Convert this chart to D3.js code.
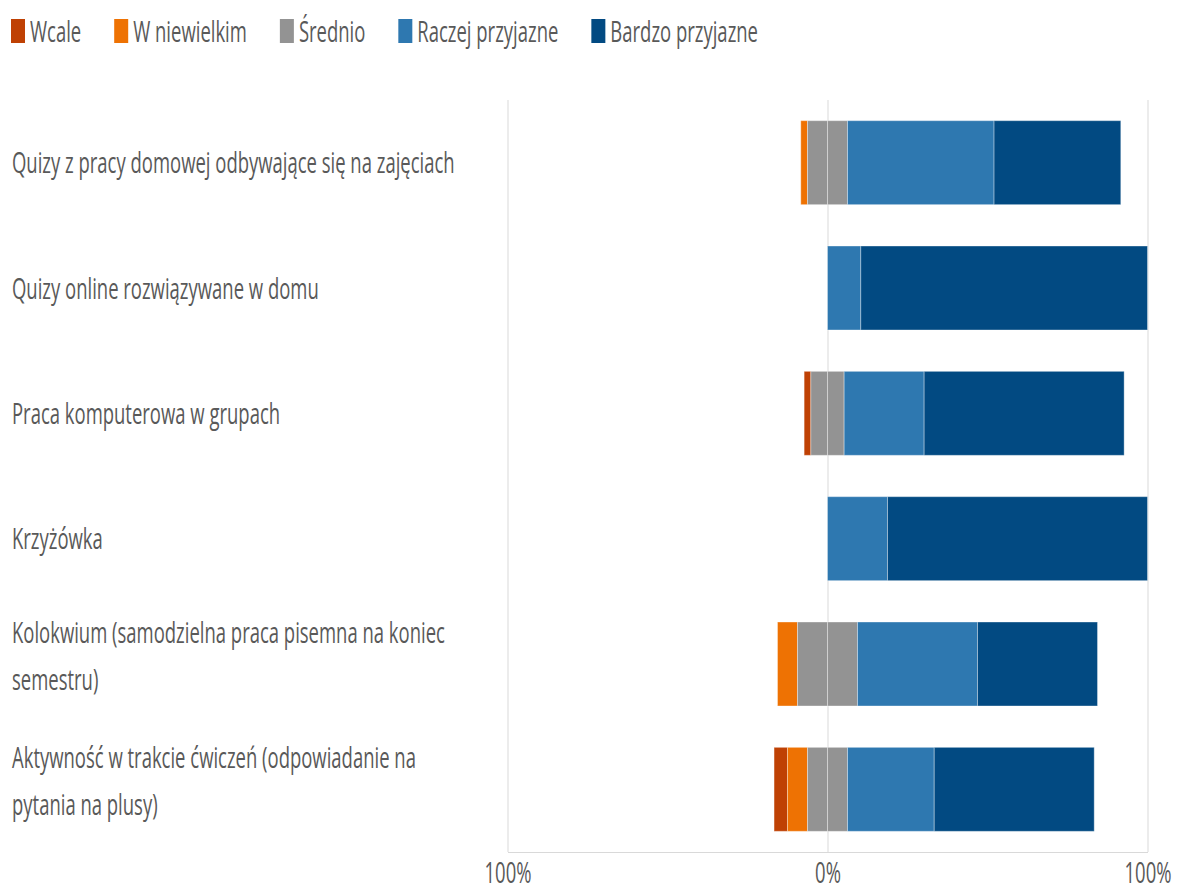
<!DOCTYPE html>
<html>
<head>
<meta charset="utf-8">
<script src="https://cdn.jsdelivr.net/npm/d3@7"></script>
<style>
  body { margin: 0; background: #fff; }
  text { font-family: "Open Sans", "Noto Sans", sans-serif; fill: #595959; }
</style>
</head>
<body>
<svg id="chart" width="1178" height="890"></svg>
<script>
// categories (top to bottom)
const categories = [
  "Quizy z pracy domowej odbywające się na zajęciach",
  "Quizy online rozwiązywane w domu",
  "Praca komputerowa w grupach",
  "Krzyżówka",
  "Kolokwium (samodzielna praca pisemna na koniec semestru)",
  "Aktywność w trakcie ćwiczeń (odpowiadanie na pytania na plusy)"
];
const seriesNames = ["Wcale", "W niewielkim", "Średnio", "Raczej przyjazne", "Bardzo przyjazne"];
const seriesColors = ["#BF4104", "#EE7203", "#939393", "#2E78B0", "#024A82"];
// values in percent
const wcale       = [0,    0,    2.1,  0,     0,     4.2];
const wNiewielkim = [2.1,  0,    0,    0,     6.25,  6.25];
const srednio     = [12.5, 0,    10.4, 0,     18.75, 12.5];
const raczej      = [45.8, 10.4, 25,   18.75, 37.5,  27.1];
const bardzo      = [39.6, 89.6, 62.5, 81.25, 37.5,  50];
const tickValues = [-100, 0, 100];
const tickLabels = ["100%", "0%", "100%"];

const svg = d3.select('#chart');
const fontSize = 29;
const plotTop = 100, plotBottom = 852, plotLeft = 507.5, plotRight = 1147.5;

// measure font to get the horizontal squeeze of the original picture
const probe = svg.append('text').style('font-size', fontSize + 'px').text(categories[0]);
const sx = 443 / probe.node().getComputedTextLength();
probe.remove();

const x = d3.scaleLinear().domain([-100, 100]).range([plotLeft, plotRight]);
const y = d3.scaleBand().domain(categories).range([plotTop, plotBottom]).paddingInner(0.33).paddingOuter(0.165);

// gridlines + axis
const axis = svg.append('g')
  .attr('transform', 'translate(0,' + plotBottom + ')')
  .call(d3.axisBottom(x).tickValues(tickValues).tickSize(-(plotBottom - plotTop)).tickSizeOuter(0).tickFormat((d, i) => tickLabels[i]));
axis.select('.domain').attr('stroke', '#d9d9d9');
axis.selectAll('.tick line').attr('stroke', '#d9d9d9');
axis.selectAll('.tick text')
  .attr('y', 0).attr('dy', 0)
  .attr('fill', '#595959')
  .style('font-size', fontSize + 'px')
  .style('font-family', '"Open Sans", "Noto Sans", sans-serif')
  .attr('transform', 'translate(0,31) scale(' + sx + ',1)');

// build segments per row
const segs = [];
categories.forEach((c, i) => {
  const parts = [
    [wcale[i], 0], [wNiewielkim[i], 1], [srednio[i] / 2, 2], [srednio[i] / 2, 2], [raczej[i], 3], [bardzo[i], 4]
  ];
  let start = -(wcale[i] + wNiewielkim[i] + srednio[i] / 2);
  parts.forEach(p => {
    if(p[0] > 0) segs.push({ cat: c, x0: start, x1: start + p[0], s: p[1] });
    start += p[0];
  });
});

svg.append('g').selectAll('rect').data(segs).enter().append('rect')
  .attr('x', d => x(d.x0))
  .attr('width', d => x(d.x1) - x(d.x0))
  .attr('y', d => y(d.cat))
  .attr('height', y.bandwidth())
  .attr('fill', d => seriesColors[d.s])
  .attr('stroke', 'rgba(255,255,255,0.35)')
  .attr('stroke-width', 1);

// category labels with wrapping
const maxWidth = 450;
categories.forEach(c => {
  const words = c.split(' ');
  const lines = [];
  let line = '';
  const t = svg.append('text').style('font-size', fontSize + 'px');
  words.forEach(w => {
    const test = line ? line + ' ' + w : w;
    t.text(test);
    if(t.node().getComputedTextLength() * sx > maxWidth && line) {
      lines.push(line);
      line = w;
    } else {
      line = test;
    }
  });
  lines.push(line);
  t.remove();
  const lh = 47;
  const cy = y(c) + y.bandwidth() / 2;
  const firstBase = cy + 10.5 - (lines.length - 1) * lh / 2 + (lines.length > 1 ? -8 : 0);
  lines.forEach((l, j) => {
    svg.append('text')
      .style('font-size', fontSize + 'px')
      .attr('transform', 'translate(12,' + (firstBase + j * lh) + ') scale(' + sx + ',1)')
      .text(l);
  });
});

// legend
let lx = 11;
seriesNames.forEach((n, i) => {
  svg.append('rect').attr('x', lx).attr('y', 19).attr('width', 14).attr('height', 24).attr('fill', seriesColors[i]);
  const t = svg.append('text')
    .style('font-size', fontSize + 'px')
    .attr('transform', 'translate(' + (lx + 19) + ',42) scale(' + sx + ',1)')
    .text(n);
  lx += 19 + t.node().getComputedTextLength() * sx + 33;
});
</script>
</body>
</html>
